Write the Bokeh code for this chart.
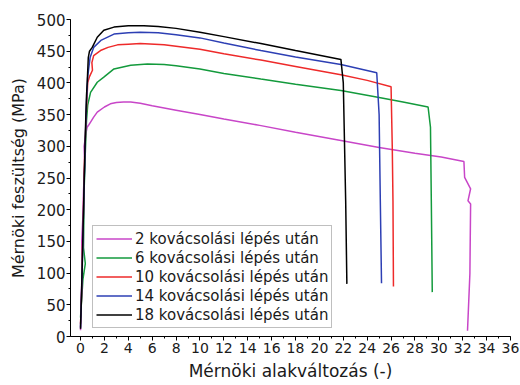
from bokeh.plotting import figure
from bokeh.models import (Range1d, SingleIntervalTicker, Legend, LegendItem, Title)
from bokeh.embed import file_html
from bokeh.resources import INLINE

# ---- data ----
labels = ["2 kovácsolási lépés után", "6 kovácsolási lépés után",
          "10 kovácsolási lépés után", "14 kovácsolási lépés után",
          "18 kovácsolási lépés után"]
colors = ["#c846c8", "#139a3c", "#ee2a2a", "#2d3fb4", "#000000"]

x_2 = [0.0, 0.05, 0.15, 0.1, 0.2, 0.25, 0.35, 0.3, 0.45, 0.55, 0.7, 0.84, 1.1, 1.4, 2.0, 2.5,
       3.0, 3.6, 4.2, 5.0, 6.0, 8.0, 10.0, 12.0, 15.0, 18.0, 21.8, 25.0, 28.0, 30.2, 32.1,
       32.16, 32.66, 32.44, 32.66, 32.6, 32.4]
y_2 = [10, 60, 110, 150, 190, 230, 270, 300, 320, 330, 334, 338, 346, 354, 362, 367,
       369, 370, 370, 368, 364, 357, 350, 343, 333, 322, 309, 298, 289, 283, 276,
       251, 233, 214, 209, 99, 9]

x_6 = [0.0, 0.1, 0.2, 0.4, 0.25, 0.3, 0.4, 0.5, 0.6, 0.84, 1.4, 1.95, 2.8, 4.2, 5.6, 7.0,
       8.0, 10.0, 12.0, 15.1, 18.0, 21.8, 25.0, 27.0, 29.1, 29.3, 29.37, 29.45]
y_6 = [30, 60, 90, 115, 140, 230, 290, 340, 365, 385, 401, 409, 422, 428, 430, 429,
       427, 422, 415, 406, 398, 388, 377, 370, 362, 330, 214, 70]

x_10 = [0.0, 0.1, 0.15, 0.25, 0.3, 0.4, 0.5, 0.6, 0.75, 1.0, 0.95, 1.1, 1.67, 2.3, 3.1,
        4.0, 5.0, 7.0, 10.0, 12.0, 15.1, 18.0, 21.8, 24.0, 26.0, 26.1, 26.16, 26.2]
y_10 = [20, 70, 130, 200, 260, 310, 360, 400, 410, 420, 432, 443, 451, 456, 460,
        461, 462, 460, 453, 446, 436, 426, 413, 404, 394, 300, 214, 79]

x_14 = [0.0, 0.1, 0.2, 0.3, 0.4, 0.5, 0.6, 0.8, 1.1, 1.7, 2.8, 4.0, 5.0, 6.5, 8.0,
        10.0, 12.0, 15.1, 18.0, 21.8, 24.8, 25.0, 25.1, 25.2]
y_14 = [14, 75, 150, 235, 310, 370, 410, 440, 456, 467, 477, 479, 480, 479, 476,
        471, 463, 451, 441, 429, 416, 350, 214, 84]

x_18 = [0.0, 0.1, 0.2, 0.3, 0.4, 0.5, 0.56, 0.65, 0.75, 0.98, 1.4, 1.95, 2.8, 4.0, 5.3,
        6.5, 8.0, 10.0, 12.0, 15.1, 18.0, 21.8, 22.0, 22.2, 22.3]
y_18 = [12, 80, 160, 240, 320, 380, 401, 440, 450, 456, 472, 483, 488, 490, 490,
        489, 486, 480, 473, 462, 451, 437, 400, 214, 83]

xs = [x_2, x_6, x_10, x_14, x_18]
ys = [y_2, y_6, y_10, y_14, y_18]

x_label = "Mérnöki alakváltozás (-)"
y_label = "Mérnöki feszültség (MPa)"

FONT = "DejaVu Sans"

p = figure(width=520, height=385, output_backend="svg", toolbar_location=None,
           x_range=Range1d(-0.84, 36), y_range=Range1d(0, 500),
           min_border_left=70, min_border_right=10, min_border_top=19,
           min_border_bottom=49)
p.outline_line_color = None
p.xgrid.visible = False
p.ygrid.visible = False

items = []
for i in range(5):
    r = p.line(xs[i], ys[i], line_color=colors[i], line_width=1.5)
    items.append(LegendItem(label=labels[i], renderers=[r]))

leg = Legend(items=items, location=(22, 8), padding=3, spacing=0,
             glyph_height=19, label_height=19, glyph_width=36, label_standoff=3,
             margin=0, label_text_font=FONT, label_text_font_size="15px",
             label_text_color="#1a1a1a", border_line_color="#808080",
             border_line_width=1.5, background_fill_alpha=1.0)
p.add_layout(leg)

p.xaxis.ticker = SingleIntervalTicker(interval=2, num_minor_ticks=2)
p.yaxis.ticker = SingleIntervalTicker(interval=50, num_minor_ticks=2)
for ax in (p.xaxis[0], p.yaxis[0]):
    ax.axis_line_color = "#000000"
    ax.major_tick_line_color = "#000000"
    ax.minor_tick_line_color = "#000000"
    ax.major_tick_in = 0
    ax.major_tick_out = 4
    ax.minor_tick_in = 0
    ax.minor_tick_out = 2
    ax.major_label_text_font = FONT
    ax.major_label_text_color = "#1a1a1a"
p.xaxis.major_label_text_font_size = "14px"
p.yaxis.major_label_text_font_size = "15px"
p.xaxis.major_label_standoff = 2
p.yaxis.major_label_standoff = 1
p.yaxis.axis_label_standoff = 0

p.xaxis.axis_label = x_label
p.xaxis.axis_label_text_font = FONT
p.xaxis.axis_label_text_font_size = "17px"
p.xaxis.axis_label_text_font_style = "normal"
p.xaxis.axis_label_text_color = "#1a1a1a"
p.xaxis.axis_label_standoff = 5

t = Title(text=y_label, align="center", offset=28, text_font=FONT,
          text_font_size="16px", text_font_style="normal", text_color="#1a1a1a",
          standoff=0, padding=6)
p.add_layout(t, "left")

open("out.html", "w").write(file_html(p, INLINE))
